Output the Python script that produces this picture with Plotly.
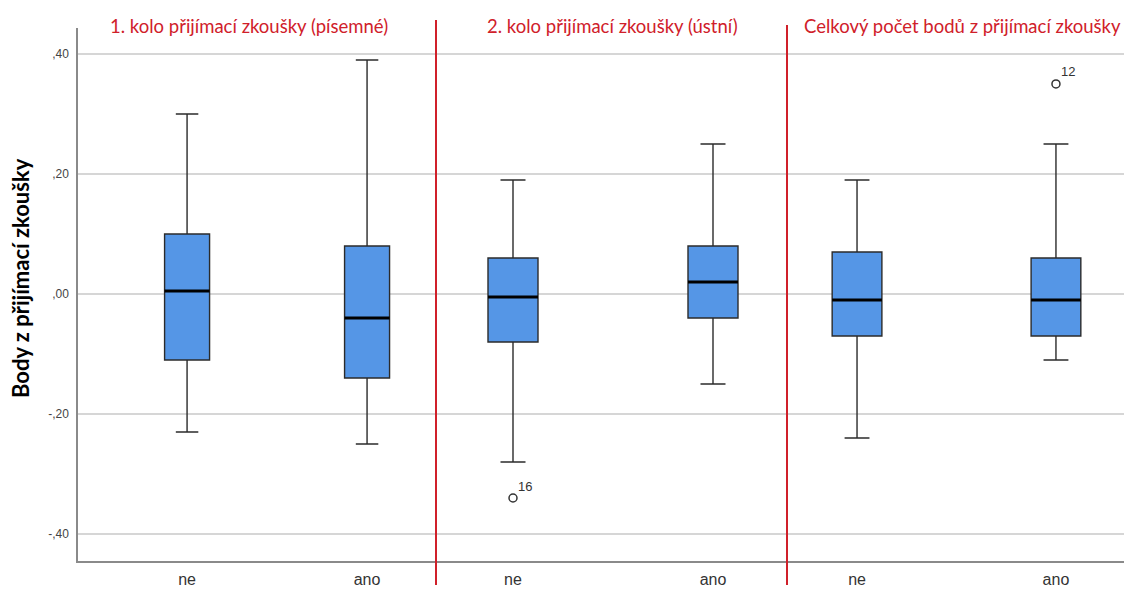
import plotly.graph_objects as go

# ---- data ----
panel_titles = ["1. kolo přijímací zkoušky (písemné)",
                "2. kolo přijímací zkoušky (ústní)",
                "Celkový počet bodů z přijímací zkoušky"]
categories = ["ne", "ano"]

lower_fence = [[-0.23, -0.25], [-0.28, -0.15], [-0.24, -0.11]]
q1_vals     = [[-0.11, -0.14], [-0.08, -0.04], [-0.07, -0.07]]
medians     = [[0.005, -0.04], [-0.005, 0.02], [-0.01, -0.01]]
q3_vals     = [[0.10, 0.08], [0.06, 0.08], [0.07, 0.06]]
upper_fence = [[0.30, 0.39], [0.19, 0.25], [0.19, 0.25]]

# outliers: (panel, category index, value, case label)
outlier_panel = [1, 2]
outlier_cat   = [0, 1]
outlier_value = [-0.34, 0.35]
outlier_label = ["16", "12"]

y_tickvals = [-0.4, -0.2, 0.0, 0.2, 0.4]
y_ticktext = ["-,40", "-,20", ",00", ",20", ",40"]
y_title = "Body z přijímací zkoušky"

# ---- style / layout ----
W, H = 1124, 590
ML, MR, MT, MB = 78, 0, 28, 29
PW = W - ML - MR
PH = H - MT - MB
def px_x(p):
    return (p - ML) / PW
def px_y(p):
    return (H - MB - p) / PH

sep_px = [436, 787]
domains = [[0, px_x(436)], [px_x(436), px_x(787)], [px_x(787), 1]]
xranges = [[-0.606, 1.383], [-0.385, 1.37], [-0.352, 1.342]]

box_fill = "#5596e6"
box_line = "#2b2b2b"
red = "#d0202a"
tick_font = "Liberation Sans Narrow, Arial Narrow, Liberation Sans, Arial, sans-serif"

fig = go.Figure()

for p in range(3):
    xa = "x" if p == 0 else f"x{p+1}"
    for c in range(len(categories)):
        fig.add_trace(go.Box(
            x=[c], q1=[q1_vals[p][c]], median=[medians[p][c]], q3=[q3_vals[p][c]],
            lowerfence=[lower_fence[p][c]], upperfence=[upper_fence[p][c]],
            xaxis=xa, yaxis="y", width=0.25, whiskerwidth=0.5,
            fillcolor=box_fill, line=dict(color=box_line, width=1.4),
            boxpoints=False, showlegend=False, hoverinfo="skip",
        ))
        m = medians[p][c]
        fig.add_trace(go.Box(
            x=[c], q1=[m], median=[m], q3=[m], lowerfence=[m], upperfence=[m],
            xaxis=xa, yaxis="y", width=0.25, whiskerwidth=0,
            fillcolor="rgba(0,0,0,0)", line=dict(color="#000000", width=3),
            boxpoints=False, showlegend=False, hoverinfo="skip",
        ))

for i in range(len(outlier_value)):
    p = outlier_panel[i]
    xa = "x" if p == 0 else f"x{p+1}"
    fig.add_trace(go.Scatter(
        x=[outlier_cat[i]], y=[outlier_value[i]], xaxis=xa, yaxis="y",
        mode="markers", marker=dict(symbol="circle-open", size=8,
                                    color="#333333", line=dict(width=1.5)),
        showlegend=False, hoverinfo="skip",
    ))
    fig.add_annotation(x=outlier_cat[i], y=outlier_value[i], xref=xa, yref="y",
                       text=outlier_label[i], showarrow=False,
                       xshift=12, yshift=12,
                       font=dict(family="Liberation Sans, Arial", size=13, color="#333333"))

layout = dict(
    width=W, height=H,
    margin=dict(l=ML, r=MR, t=MT, b=MB, pad=0, autoexpand=False),
    paper_bgcolor="white", plot_bgcolor="white",
    boxmode="overlay",
    showlegend=False,
    yaxis=dict(range=[-0.445, 0.4433], tickvals=y_tickvals, ticktext=y_ticktext,
               showgrid=True, gridcolor="#d6d6d6", gridwidth=2,
               zeroline=False, showline=True, linecolor="#8a8a8a", linewidth=1.5,
               ticks="", ticklabelstandoff=5, automargin=False,
               tickfont=dict(family="Liberation Sans, Arial", size=12, color="#444444")),
)
for p in range(3):
    key = "xaxis" if p == 0 else f"xaxis{p+1}"
    layout[key] = dict(domain=domains[p], range=xranges[p], anchor="y",
                       tickvals=list(range(len(categories))), ticktext=categories,
                       showgrid=False, zeroline=False, showline=True,
                       linecolor="#8a8a8a", linewidth=1.5, ticks="",
                       ticklabelstandoff=3, automargin=False,
                       tickfont=dict(family=tick_font, size=16, color="#333333"))
fig.update_layout(**layout)

# panel titles
title_centers = [249, 612, 962]
for t, cx in zip(panel_titles, title_centers):
    fig.add_annotation(x=px_x(cx), y=px_y(26), xref="paper", yref="paper",
                       text=t, showarrow=False, xanchor="center", yanchor="middle",
                       font=dict(family="Lato, Open Sans, sans-serif", size=18.5, color=red))

# red separators
for sx, top in zip(sep_px, [20, 25]):
    fig.add_shape(type="line", xref="paper", yref="paper",
                  x0=px_x(sx), x1=px_x(sx), y0=px_y(585), y1=px_y(top),
                  line=dict(color=red, width=2))

# y axis title
fig.add_annotation(x=px_x(20), y=px_y(278), xref="paper", yref="paper",
                   text="<b>" + y_title + "</b>", textangle=-90, showarrow=False,
                   xanchor="center", yanchor="middle",
                   font=dict(family="Lato, Open Sans, sans-serif", size=22, color="#000000"))

fig.write_html("out.html", config={"displayModeBar": False},
               post_script="document.body.style.margin='0';document.body.style.overflow='hidden';")
